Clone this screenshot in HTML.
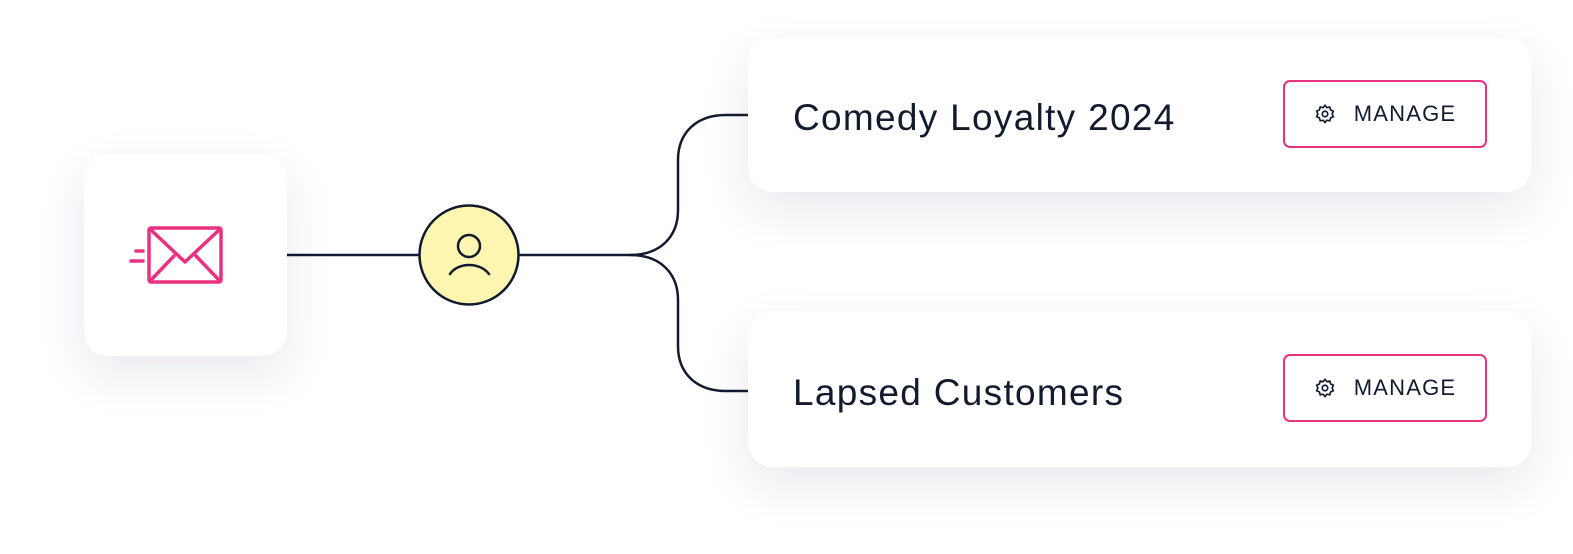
<!DOCTYPE html>
<html><head><style>
body{margin:0;width:1573px;height:554px;background:#fff;position:relative;overflow:hidden;font-family:"Liberation Sans",sans-serif;}
.card{position:absolute;background:#fff;border-radius:24px;box-shadow:0 18px 50px rgba(30,35,80,0.10);}
.title{position:absolute;left:45px;font-size:37px;letter-spacing:1.3px;color:#111a2e;}
.btn{position:absolute;left:535px;width:204px;height:68px;border:2px solid #e8327f;border-radius:7px;box-sizing:border-box;display:flex;align-items:center;justify-content:center;font-size:22px;color:#111a2e;letter-spacing:1.2px;}
.btn svg{margin-right:18px}
</style></head><body>
<div class="card" style="left:84px;top:154px;width:203px;height:202px"></div>
<div class="card" style="left:748px;top:38px;width:783px;height:154px">
<div class="title" style="top:59px">Comedy Loyalty 2024</div>
<div class="btn" style="top:42px"><svg width="22" height="22" viewBox="0 0 24 24" fill="none" stroke="#111a2e" stroke-width="1.8"><circle cx="12" cy="12" r="3"/><path d="M12 2.5l2 2.5 3.2-.6.9 3.1 3 1.4-1.3 3 1.3 3-3 1.4-.9 3.1-3.2-.6-2 2.5-2-2.5-3.2.6-.9-3.1-3-1.4 1.3-3-1.3-3 3-1.4.9-3.1 3.2.6z"/></svg>MANAGE</div>
</div>
<div class="card" style="left:748px;top:311px;width:783px;height:156px">
<div class="title" style="top:61px">Lapsed Customers</div>
<div class="btn" style="top:43px"><svg width="22" height="22" viewBox="0 0 24 24" fill="none" stroke="#111a2e" stroke-width="1.8"><circle cx="12" cy="12" r="3"/><path d="M12 2.5l2 2.5 3.2-.6.9 3.1 3 1.4-1.3 3 1.3 3-3 1.4-.9 3.1-3.2-.6-2 2.5-2-2.5-3.2.6-.9-3.1-3-1.4 1.3-3-1.3-3 3-1.4.9-3.1 3.2.6z"/></svg>MANAGE</div>
</div>
<svg width="1573" height="554" style="position:absolute;left:0;top:0">
<g fill="none" stroke="#111a2e" stroke-width="2.5">
<path d="M287 255H419"/>
<path d="M519 255H630C660 255 678 237 678 210V160C678 133 696 115 726 115H748"/>
<path d="M630 255C660 255 678 273 678 300V346C678 373 696 391 726 391H748"/>
<circle cx="469" cy="255" r="49.5" fill="#fdf6b0"/>
<circle cx="469" cy="246" r="11"/>
<path d="M450 274C458 262 480 262 489 274" stroke-linecap="round"/>
</g>
<g fill="none" stroke="#e8327f" stroke-width="3.5" stroke-linecap="round" stroke-linejoin="round">
<rect x="149" y="228" width="72" height="54" rx="2"/>
<path d="M151 230L185 262L219 230M151 280L174 256M219 280L196 256"/>
<path d="M136 251H143M131 261H143"/>
</g>
</svg>
</body></html>
